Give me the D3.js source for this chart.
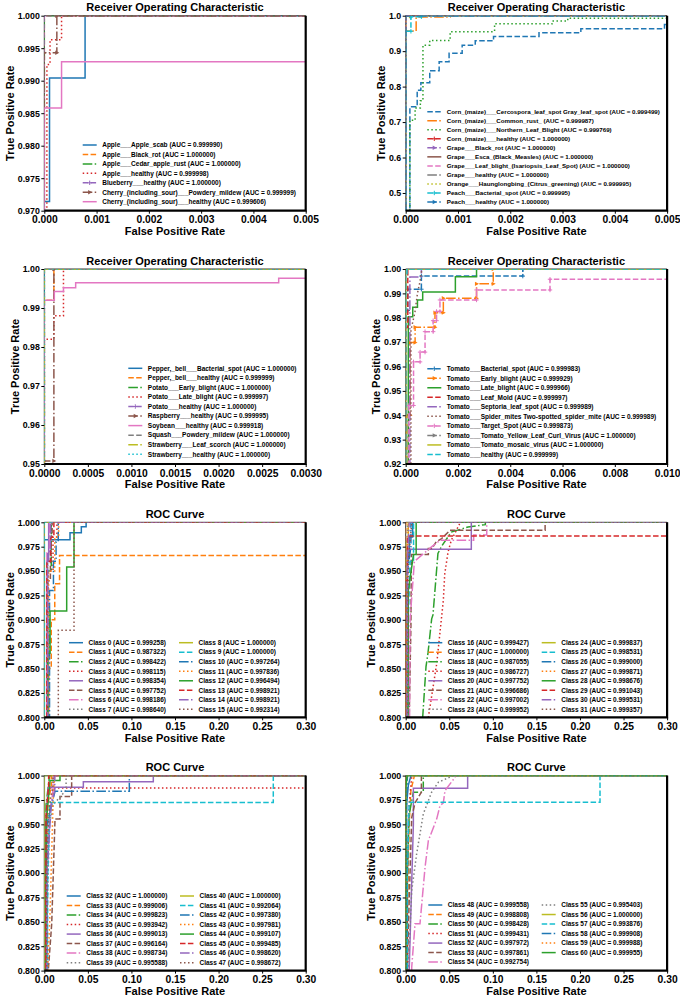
<!DOCTYPE html>
<html>
<head>
<meta charset="utf-8">
<script src="https://cdn.jsdelivr.net/npm/d3@7"></script>
<style>
  body { margin: 0; background: #fff; }
  svg text { font-family: Arial, "Liberation Sans", Helvetica, sans-serif; font-weight: bold; fill: #000; }
</style>
</head>
<body>
<div id="chart"></div>
<script>
///// DATOS //////
const colors = ['#1f77b4', '#ff7f0e', '#2ca02c', '#d62728', '#9467bd', '#8c564b', '#e377c2', '#7f7f7f', '#bcbd22', '#17becf'];

// Panel 1: Apple / Blueberry / Cherry
const p1Names = ['Apple___Apple_scab', 'Apple___Black_rot', 'Apple___Cedar_apple_rust', 'Apple___healthy',
  'Blueberry___healthy', 'Cherry_(including_sour)___Powdery_mildew', 'Cherry_(including_sour)___healthy'];
const p1Auc = [0.999990, 1.000000, 1.000000, 0.999998, 1.000000, 0.999999, 0.999606];
const p1Curves = [
  [[0,0],[0,0.9714],[0.0001,0.9714],[0.0001,0.9904],[0.00078,0.9904],[0.00078,1],[1,1]],
  [[0,0],[0,1],[1,1]],
  [[0,0],[0,1],[1,1]],
  [[0,0],[0.00005,0.9925],[0.00011,0.9925],[0.00011,0.9963],[0.00033,0.9963],[0.00033,1],[1,1]],
  [[0,0],[0,1],[1,1]],
  [[0,0],[0,0.9943],[0.00024,0.9943],[0.00024,1],[1,1]],
  [[0,0],[0,0.9858],[0.00033,0.9858],[0.00033,0.9929],[0.055,0.9929],[0.055,1],[1,1]]
];
const p1XTicks = [0, 0.001, 0.002, 0.003, 0.004, 0.005];
const p1YTicks = [0.970, 0.975, 0.980, 0.985, 0.990, 0.995, 1.000];

// Panel 2: Corn / Grape / Orange / Peach
const p2Names = ['Corn_(maize)___Cercospora_leaf_spot Gray_leaf_spot', 'Corn_(maize)___Common_rust_',
  'Corn_(maize)___Northern_Leaf_Blight', 'Corn_(maize)___healthy', 'Grape___Black_rot',
  'Grape___Esca_(Black_Measles)', 'Grape___Leaf_blight_(Isariopsis_Leaf_Spot)', 'Grape___healthy',
  'Orange___Haunglongbing_(Citrus_greening)', 'Peach___Bacterial_spot', 'Peach___healthy'];
const p2Auc = [0.999499, 0.999987, 0.999769, 1.000000, 1.000000, 1.000000, 1.000000, 1.000000, 0.999995, 0.999995, 1.000000];
const p2Curves = [
  [[0,0],[0.00008,0],[0.00008,0.743],[0.00022,0.743],[0.00022,0.790],[0.00029,0.790],[0.00029,0.811],
   [0.00046,0.811],[0.00046,0.845],[0.00064,0.845],[0.00064,0.870],[0.00083,0.870],[0.00083,0.894],
   [0.00108,0.894],[0.00108,0.917],[0.00133,0.917],[0.00133,0.929],[0.00168,0.929],[0.00168,0.941],
   [0.00255,0.941],[0.00255,0.952],[0.00335,0.952],[0.00335,0.963],[0.00495,0.963],[0.00495,0.975],
   [0.006,0.975],[0.006,1],[1,1]],
  [[0,0],[0,0.957],[0.0002,0.957],[0.0002,0.996],[0.00085,0.996],[0.00085,1],[1,1]],
  [[0,0],[0.00008,0],[0.00008,0.705],[0.00018,0.705],[0.00018,0.740],[0.00028,0.740],[0.00028,0.760],
   [0.00033,0.760],[0.00033,0.917],[0.00046,0.917],[0.00046,0.930],[0.00085,0.930],[0.00085,0.955],
   [0.0017,0.955],[0.0017,0.977],[0.0028,0.977],[0.0028,0.985],[0.0031,0.985],[0.0031,0.993],
   [0.006,0.993],[0.006,1],[1,1]],
  [[0,0],[0,1],[1,1]],
  [[0,0],[0,1],[1,1]],
  [[0,0],[0,1],[1,1]],
  [[0,0],[0,1],[1,1]],
  [[0,0],[0,1],[1,1]],
  [[0,0],[0,0.995],[0.0001,0.995],[0.0001,1],[1,1]],
  [[0,0],[0,0.956],[0.0001,0.956],[0.0001,0.997],[0.0003,0.997],[0.0003,1],[1,1]],
  [[0,0],[0,1],[1,1]]
];
const p2XTicks = [0, 0.001, 0.002, 0.003, 0.004, 0.005];
const p2YTicks = [0.5, 0.6, 0.7, 0.8, 0.9, 1.0];

// Panel 3: Pepper / Potato / Raspberry / Soybean / Squash / Strawberry
const p3Names = ['Pepper,_bell___Bacterial_spot', 'Pepper,_bell___healthy', 'Potato___Early_blight',
  'Potato___Late_blight', 'Potato___healthy', 'Raspberry___healthy', 'Soybean___healthy',
  'Squash___Powdery_mildew', 'Strawberry___Leaf_scorch', 'Strawberry___healthy'];
const p3Auc = [1.000000, 0.999999, 1.000000, 0.999997, 1.000000, 0.999995, 0.999918, 1.000000, 1.000000, 1.000000];
const p3Curves = [
  [[0,0],[0,1],[1,1]],
  [[0,0],[0,0.992],[0.00011,0.992],[0.00011,1],[1,1]],
  [[0,0],[0,1],[1,1]],
  [[0,0],[0,0.982],[0.00011,0.982],[0.00011,0.988],[0.00022,0.988],[0.00022,1],[1,1]],
  [[0,0],[0,1],[1,1]],
  [[0,0],[0,0.9508],[0.00011,0.9508],[0.00011,1],[1,1]],
  [[0,0],[0,0.992],[0.000115,0.992],[0.000115,0.9942],[0.00022,0.9942],[0.00022,0.9952],[0.00036,0.9952],
   [0.00036,0.9965],[0.00269,0.9965],[0.00269,0.9976],[0.01,0.9976],[0.01,1],[1,1]],
  [[0,0],[0,1],[1,1]],
  [[0,0],[0,1],[1,1]],
  [[0,0],[0,1],[1,1]]
];
const p3XTicks = [0, 0.0005, 0.0010, 0.0015, 0.0020, 0.0025, 0.0030];
const p3YTicks = [0.95, 0.96, 0.97, 0.98, 0.99, 1.00];

// Panel 4: Tomato
const p4Names = ['Tomato___Bacterial_spot', 'Tomato___Early_blight', 'Tomato___Late_blight', 'Tomato___Leaf_Mold',
  'Tomato___Septoria_leaf_spot', 'Tomato___Spider_mites Two-spotted_spider_mite', 'Tomato___Target_Spot',
  'Tomato___Tomato_Yellow_Leaf_Curl_Virus', 'Tomato___Tomato_mosaic_virus', 'Tomato___healthy'];
const p4Auc = [0.999983, 0.999929, 0.999966, 0.999997, 0.999989, 0.999989, 0.999873, 1.000000, 1.000000, 0.999999];
const p4Curves = [
  [[0,0],[0,0.983],[0.00008,0.983],[0.00008,0.9917],[0.0006,0.9917],[0.0006,0.9971],[0.00448,0.9971],[0.00448,1],[1,1]],
  [[0,0],[0.00004,0],[0.00004,0.940],[0.00017,0.940],[0.00017,0.9698],[0.00036,0.9698],[0.00036,0.9761],
   [0.00112,0.9761],[0.00112,0.9821],[0.00144,0.9821],[0.00144,0.988],[0.00271,0.988],[0.00271,0.9939],
   [0.00335,0.9939],[0.00335,1],[1,1]],
  [[0,0],[0.0001,0],[0.0001,0.9804],[0.00027,0.9804],[0.00027,0.9843],[0.00045,0.9843],[0.00045,0.9873],
   [0.00065,0.9873],[0.00065,0.9906],[0.0019,0.9906],[0.0019,0.9968],[0.00271,0.9968],[0.00271,1],[1,1]],
  [[0,0],[0,0.976],[0.00008,0.976],[0.00008,1],[1,1]],
  [[0,0],[0.00016,0],[0.00016,0.9967],[0.0006,0.9967],[0.0006,1],[1,1]],
  [[0,0],[0.0002,0],[0.0002,0.975],[0.00035,0.982],[0.00045,0.990],[0.00055,0.995],[0.00062,1],[1,1]],
  [[0,0],[0.00012,0],[0.00012,0.944],[0.0003,0.944],[0.0003,0.9619],[0.00055,0.9619],[0.00055,0.9659],
   [0.00074,0.9659],[0.00074,0.9743],[0.00105,0.9743],[0.00105,0.9788],[0.00118,0.9788],[0.00118,0.9826],
   [0.00131,0.9826],[0.00131,0.9873],[0.00271,0.9873],[0.00271,0.9914],[0.00552,0.9914],[0.00552,0.9958],
   [0.02,0.9958],[0.02,1],[1,1]],
  [[0,0],[0,1],[1,1]],
  [[0,0],[0,1],[1,1]],
  [[0,0],[0,0.9975],[0.00005,0.9975],[0.00005,1],[1,1]]
];
const p4XTicks = [0, 0.002, 0.004, 0.006, 0.008, 0.010];
const p4YTicks = [0.92, 0.93, 0.94, 0.95, 0.96, 0.97, 0.98, 0.99, 1.00];

// Panels 5-8: Class 0-60
const classXTicks = [0, 0.05, 0.10, 0.15, 0.20, 0.25, 0.30];
const classYTicks = [0.800, 0.825, 0.850, 0.875, 0.900, 0.925, 0.950, 0.975, 1.000];

const p5Classes = [0, 1, 2, 3, 4, 5, 6, 7, 8, 9, 10, 11, 12, 13, 14, 15];
const p5Auc = [0.999258, 0.987322, 0.998422, 0.998115, 0.998354, 0.997752, 0.998186, 0.998640,
  1.000000, 1.000000, 0.997264, 0.997836, 0.996494, 0.998921, 0.998921, 0.992314];
const p5Curves = [
  [[0,0],[0,0.9822],[0.0295,0.9822],[0.0295,0.9893],[0.0425,0.9893],[0.0425,0.9955],[0.048,0.9955],[0.048,1],[1,1]],
  [[0,0],[0.005,0],[0.005,0.85],[0.008,0.85],[0.008,0.90],[0.012,0.90],[0.012,0.937],[0.0175,0.937],[0.0175,0.966],[0.36,0.966],[0.36,1],[1,1]],
  [[0,0],[0.003,0],[0.003,0.95],[0.008,0.95],[0.008,1],[1,1]],
  [[0,0],[0.004,0],[0.004,0.95],[0.01,0.95],[0.01,0.985],[0.0145,0.985],[0.0145,1],[1,1]],
  [[0,0],[0.003,0],[0.003,0.96],[0.005,0.96],[0.005,1],[1,1]],
  [[0,0],[0.004,0],[0.004,0.94],[0.007,0.94],[0.007,0.985],[0.009,0.985],[0.009,1],[1,1]],
  [[0,0],[0.003,0],[0.003,0.97],[0.006,0.97],[0.006,1],[1,1]],
  [[0,0],[0.004,0],[0.004,0.96],[0.008,0.96],[0.008,1],[1,1]],
  [[0,0],[0,1],[1,1]],
  [[0,0],[0,1],[1,1]],
  [[0,0],[0.006,0],[0.006,0.93],[0.0105,0.93],[0.0105,0.96],[0.0135,0.96],[0.0135,0.98],[0.016,0.98],[0.016,1],[1,1]],
  [[0,0],[0.005,0],[0.005,0.95],[0.012,0.95],[0.012,0.985],[0.0165,0.985],[0.0165,1],[1,1]],
  [[0,0],[0.004,0],[0.004,0.8656],[0.0066,0.8656],[0.0066,0.909],[0.0257,0.909],[0.0257,0.9542],[0.0341,0.9542],[0.0341,1],[1,1]],
  [[0,0],[0.003,0],[0.003,0.96],[0.0075,0.96],[0.0075,0.985],[0.011,0.985],[0.011,1],[1,1]],
  [[0,0],[0.004,0],[0.004,0.97],[0.007,0.97],[0.007,1],[1,1]],
  [[0,0],[0.0161,0],[0.0161,0.8892],[0.0341,0.8892],[0.0341,1],[1,1]]
];

const p6Classes = [16, 17, 18, 19, 20, 21, 22, 23, 24, 25, 26, 27, 28, 29, 30, 31];
const p6Auc = [0.999427, 1.000000, 0.987055, 0.986727, 0.997752, 0.996686, 0.997002, 0.999952,
  0.999837, 0.998531, 0.999000, 0.999871, 0.998676, 0.991043, 0.999531, 0.999357];
const p6Curves = [
  [[0,0],[0.001,0.95],[0.004,0.97],[0.004,0.985],[0.008,0.985],[0.008,1],[1,1]],
  [[0,0],[0,1],[1,1]],
  [[0,0],[0.012,0.6],[0.0195,0.8],[0.0233,0.852],[0.0256,0.866],[0.0298,0.901],[0.0313,0.905],[0.0351,0.947],
   [0.037,0.968],[0.0409,0.975],[0.0523,0.99],[0.0715,0.9952],[0.0914,0.9976],[0.0914,1],[1,1]],
  [[0,0],[0.018,0.6],[0.026,0.8],[0.0356,0.855],[0.0432,0.92],[0.0448,0.947],[0.0486,0.9695],[0.0523,0.9815],
   [0.062,0.9986],[0.062,1],[1,1]],
  [[0,0],[0.0015,0],[0.0015,0.9723],[0.0753,0.9723],[0.0753,1],[1,1]],
  [[0,0],[0.004,0.8],[0.006,0.894],[0.0065,0.9669],[0.026,0.9669],[0.026,0.973],[0.03,0.973],[0.035,0.98],
   [0.0413,0.9833],[0.0508,0.9918],[0.16,0.9918],[0.16,1],[1,1]],
  [[0,0],[0.005,0.9],[0.01,0.96],[0.03,0.975],[0.0394,0.9815],[0.078,0.9815],[0.078,0.987],[0.093,0.987],[0.093,1],[1,1]],
  [[0,0],[0,0.99],[0.002,0.99],[0.002,1],[1,1]],
  [[0,0],[0,0.98],[0.003,0.98],[0.003,1],[1,1]],
  [[0,0],[0.003,0.9],[0.005,0.96],[0.009,0.96],[0.009,1],[1,1]],
  [[0,0],[0.002,0.95],[0.006,0.975],[0.006,1],[1,1]],
  [[0,0],[0.002,0.97],[0.003,1],[1,1]],
  [[0,0],[0.003,0.93],[0.009,0.967],[0.012,0.967],[0.012,1],[1,1]],
  [[0,0],[0,0.94],[0.002,0.94],[0.002,0.986],[0.64,0.986],[0.64,1],[1,1]],
  [[0,0],[0.002,0.96],[0.004,1],[1,1]],
  [[0,0],[0.003,0.96],[0.006,0.99],[0.007,1],[1,1]]
];

const p7Classes = [32, 33, 34, 35, 36, 37, 38, 39, 40, 41, 42, 43, 44, 45, 46, 47];
const p7Auc = [1.000000, 0.999006, 0.999823, 0.993942, 0.999013, 0.996164, 0.998734, 0.995588,
  1.000000, 0.992064, 0.997380, 0.997981, 0.999107, 0.999485, 0.998620, 0.998672];
const p7Curves = [
  [[0,0],[0,1],[1,1]],
  [[0,0],[0.002,0.9],[0.004,0.97],[0.008,0.99],[0.008,1],[1,1]],
  [[0,0],[0.002,0.97],[0.006,1],[1,1]],
  [[0,0],[0.002,0.95],[0.005,0.9873],[0.45,0.9873],[0.45,1],[1,1]],
  [[0,0],[0.002,0.95],[0.0046,0.988],[0.0448,0.988],[0.0448,0.9938],[0.1251,0.9938],[0.1251,1],[1,1]],
  [[0,0],[0.003,0.7],[0.0046,0.8],[0.0085,0.848],[0.0123,0.9556],[0.018,0.9556],[0.018,0.9785],[0.0314,0.9785],[0.0314,1],[1,1]],
  [[0,0],[0.003,0.9],[0.006,0.96],[0.01,0.985],[0.01,1],[1,1]],
  [[0,0],[0.003,0.85],[0.006,0.95],[0.01,0.97],[0.025,0.985],[0.025,1],[1,1]],
  [[0,0],[0,1],[1,1]],
  [[0,0],[0.004,0.9],[0.0065,0.9723],[0.2628,0.9723],[0.2628,1],[1,1]],
  [[0,0],[0.003,0.95],[0.0123,0.984],[0.0976,0.984],[0.0976,1],[1,1]],
  [[0,0],[0.004,0.8],[0.0066,0.86],[0.0103,0.98],[0.012,1],[1,1]],
  [[0,0],[0.002,0.95],[0.0066,0.995],[0.018,0.995],[0.018,1],[1,1]],
  [[0,0],[0.002,0.96],[0.005,0.99],[0.005,1],[1,1]],
  [[0,0],[0.003,0.9],[0.008,0.97],[0.012,0.985],[0.012,1],[1,1]],
  [[0,0],[0.003,0.92],[0.006,0.97],[0.01,0.99],[0.01,1],[1,1]]
];

const p8Classes = [48, 49, 50, 51, 52, 53, 54, 55, 56, 57, 58, 59, 60];
const p8Auc = [0.999558, 0.998808, 0.998428, 0.999431, 0.997972, 0.997861, 0.992754, 0.995403,
  1.000000, 0.993876, 0.999908, 0.999988, 0.999955];
const p8Curves = [
  [[0,0],[0.001,0.97],[0.003,0.99],[0.006,1],[1,1]],
  [[0,0],[0.002,0.85],[0.004,0.95],[0.006,0.985],[0.01,1],[1,1]],
  [[0,0],[0.002,0.9],[0.004,0.96],[0.0088,0.983],[0.0202,0.983],[0.0202,1],[1,1]],
  [[0,0],[0.002,0.9],[0.004,0.97],[0.007,1],[1,1]],
  [[0,0],[0.004,0.8],[0.0088,0.95],[0.0088,0.987],[0.0711,0.987],[0.0711,1],[1,1]],
  [[0,0],[0.002,0.8],[0.003,0.841],[0.0069,0.957],[0.0107,0.972],[0.018,0.983],[0.018,1],[1,1]],
  [[0,0],[0.004,0.6],[0.0069,0.8034],[0.0107,0.848],[0.0164,0.848],[0.0222,0.906],[0.026,0.9333],[0.0356,0.9556],
   [0.0394,0.9692],[0.0432,0.972],[0.0451,0.9846],[0.0566,0.9983],[0.0566,1],[1,1]],
  [[0,0],[0.002,0.6],[0.003,0.8034],[0.0069,0.882],[0.0126,0.92],[0.0202,0.9607],[0.0298,0.983],[0.0374,0.9932],[0.0546,1],[1,1]],
  [[0,0],[0,1],[1,1]],
  [[0,0],[0.002,0.9],[0.004,0.9726],[0.223,0.9726],[0.223,1],[1,1]],
  [[0,0],[0.001,0.97],[0.002,1],[1,1]],
  [[0,0],[0,0.99],[0.001,1],[1,1]],
  [[0,0],[0,0.985],[0.0015,1],[1,1]]
];

///// ESTILOS Y DISPOSICIÓN //////
const lineStyles = {
  solid: { dash: null, marker: null },
  dashed: { dash: '5.5,2.4', marker: null },
  dashdot: { dash: '9.6,2.4,1.5,2.4', marker: null },
  dotted: { dash: '1.5,2.5', marker: null },
  dashedPlus: { dash: '5.5,2.4', marker: 'plus' },
  dashdotTri: { dash: '9.6,2.4,1.5,2.4', marker: 'tri' }
};
const cycle6 = ['solid', 'dashed', 'dashdot', 'dotted', 'dashedPlus', 'dashdotTri'];
const cycle4 = ['solid', 'dashed', 'dashdot', 'dotted'];

const W = 680, H = 996;
const colLeft = [44.3, 405.7], rowTop = [15.7, 269, 522.3, 775.6];
const plotW = 261.4, plotH = 195;
const rocTitle = 'Receiver Operating Characteristic';

const classLabel = c => 'Class ' + c;

const panels = [
  { names: p1Names, auc: p1Auc, curves: p1Curves, xTicks: p1XTicks, yTicks: p1YTicks, xDomain: [0, 0.005], yDomain: [0.97, 1],
    xFmt: '.3f', yFmt: '.3f', title: rocTitle, row: 0, col: 0, cycle: cycle6, styleStart: 0,
    legend: { x: [38.4], y: 129.3, dy: 9.45, fs: 6.5 } },
  { names: p2Names, auc: p2Auc, curves: p2Curves, xTicks: p2XTicks, yTicks: p2YTicks, xDomain: [0, 0.005], yDomain: [0.45, 1],
    xFmt: '.3f', yFmt: '.1f', title: rocTitle, row: 0, col: 1, cycle: cycle6, styleStart: 7,
    legend: { x: [21.6], y: 96, dy: 9.03, fs: 6.2 } },
  { names: p3Names, auc: p3Auc, curves: p3Curves, xTicks: p3XTicks, yTicks: p3YTicks, xDomain: [0, 0.003], yDomain: [0.95, 1],
    xFmt: '.4f', yFmt: '.2f', title: rocTitle, row: 1, col: 0, cycle: cycle6, styleStart: 18,
    legend: { x: [84], y: 99.3, dy: 9.55, fs: 6.5 } },
  { names: p4Names, auc: p4Auc, curves: p4Curves, xTicks: p4XTicks, yTicks: p4YTicks, xDomain: [0, 0.010], yDomain: [0.92, 1],
    xFmt: '.3f', yFmt: '.2f', title: rocTitle, row: 1, col: 1, cycle: cycle6, styleStart: 28,
    legend: { x: [21.6], y: 99.7, dy: 9.53, fs: 6.5 } },
  { names: p5Classes.map(classLabel), auc: p5Auc, curves: p5Curves, xTicks: classXTicks, yTicks: classYTicks, xDomain: [0, 0.3], yDomain: [0.8, 1],
    xFmt: '.2f', yFmt: '.3f', title: 'ROC Curve', row: 2, col: 0, cycle: cycle4, styleStart: 0,
    legend: { x: [24.7, 134.7], y: 120.4, dy: 9.52, fs: 6.5 } },
  { names: p6Classes.map(classLabel), auc: p6Auc, curves: p6Curves, xTicks: classXTicks, yTicks: classYTicks, xDomain: [0, 0.3], yDomain: [0.8, 1],
    xFmt: '.2f', yFmt: '.3f', title: 'ROC Curve', row: 2, col: 1, cycle: cycle4, styleStart: 0,
    legend: { x: [22.6, 136], y: 120.4, dy: 9.52, fs: 6.5 } },
  { names: p7Classes.map(classLabel), auc: p7Auc, curves: p7Curves, xTicks: classXTicks, yTicks: classYTicks, xDomain: [0, 0.3], yDomain: [0.8, 1],
    xFmt: '.2f', yFmt: '.3f', title: 'ROC Curve', row: 3, col: 0, cycle: cycle4, styleStart: 0,
    legend: { x: [22.4, 135.7], y: 120.4, dy: 9.52, fs: 6.5 } },
  { names: p8Classes.map(classLabel), auc: p8Auc, curves: p8Curves, xTicks: classXTicks, yTicks: classYTicks, xDomain: [0, 0.3], yDomain: [0.8, 1],
    xFmt: '.2f', yFmt: '.3f', title: 'ROC Curve', row: 3, col: 1, cycle: cycle4, styleStart: 0,
    legend: { x: [22.6, 136], y: 129.4, dy: 9.52, fs: 6.5 } }
];

///// DIBUJO //////
const svg = d3.select('#chart').append('svg')
  .attr('width', W).attr('height', H)
  .attr('viewBox', `0 0 ${W} ${H}`);
svg.append('rect').attr('width', W).attr('height', H).attr('fill', '#fff');
const defs = svg.append('defs');

function drawMarker(sel, type, cx, cy, color) {
  if (type === 'plus') {
    sel.append('path')
      .attr('d', `M${cx - 2.2},${cy}H${cx + 2.2}M${cx},${cy - 2.2}V${cy + 2.2}`)
      .attr('stroke', color).attr('stroke-width', 1).attr('fill', 'none');
  } else if (type === 'tri') {
    sel.append('path')
      .attr('d', `M${cx + 2.4},${cy}L${cx - 1.6},${cy - 2.2}L${cx - 1.6},${cy + 2.2}Z`)
      .attr('fill', color);
  }
}

panels.forEach(function(p, idx) {
  const left = colLeft[p.col], top = rowTop[p.row];
  const g = svg.append('g').attr('transform', `translate(${left},${top})`);

  const x = d3.scaleLinear().domain(p.xDomain).range([0, plotW]);
  const y = d3.scaleLinear().domain(p.yDomain).range([plotH, 0]);

  const clipId = 'clip' + idx;
  defs.append('clipPath').attr('id', clipId)
    .append('rect').attr('width', plotW).attr('height', plotH);

  // Ejes finos (arriba e izquierda) por debajo de las curvas
  g.append('path').attr('d', `M0,${plotH}V0H${plotW}`)
    .attr('fill', 'none').attr('stroke', '#000').attr('stroke-width', 0.8);

  // Curvas
  const line = d3.line().x(d => x(d[0])).y(d => y(d[1]));
  const curveG = g.append('g').attr('clip-path', `url(#${clipId})`);
  const styleOf = i => lineStyles[p.cycle[(p.styleStart + i) % p.cycle.length]];

  p.curves.forEach(function(c, i) {
    const st = styleOf(i), col = colors[i % 10];
    curveG.append('path')
      .attr('d', line(c))
      .attr('fill', 'none')
      .attr('stroke', col)
      .attr('stroke-width', 1.5)
      .attr('stroke-dasharray', st.dash);
    if (st.marker) {
      c.forEach(d => drawMarker(curveG, st.marker, x(d[0]), y(d[1]), col));
    }
  });

  // Eje X
  const xAxis = g.append('g')
    .attr('transform', `translate(0,${plotH})`)
    .call(d3.axisBottom(x).tickValues(p.xTicks).tickFormat(d3.format(p.xFmt)).tickSize(3).tickSizeOuter(0).tickPadding(2.3));
  xAxis.select('.domain').remove();
  xAxis.selectAll('text').attr('font-size', 10.3).attr('font-family', null);
  xAxis.attr('font-family', null);

  // Eje Y
  const yAxis = g.append('g')
    .call(d3.axisLeft(y).tickValues(p.yTicks).tickFormat(d3.format(p.yFmt)).tickSize(3).tickSizeOuter(0).tickPadding(1.5));
  yAxis.select('.domain').remove();
  yAxis.selectAll('text').attr('font-size', 8.8).attr('font-family', null);
  yAxis.attr('font-family', null);

  // Ejes gruesos (abajo y derecha)
  g.append('path').attr('d', `M0,${plotH}H${plotW}V0`)
    .attr('fill', 'none').attr('stroke', '#000').attr('stroke-width', 2.2);

  // Títulos
  g.append('text')
    .attr('x', plotW / 2).attr('y', -4.4)
    .attr('text-anchor', 'middle').attr('font-size', 11)
    .text(p.title);

  g.append('text')
    .attr('x', plotW / 2).attr('y', plotH + 24.3)
    .attr('text-anchor', 'middle').attr('font-size', 11)
    .text('False Positive Rate');

  const yb = yAxis.node().getBBox();
  const ylx = yb.x - 4;
  g.append('text')
    .attr('transform', `translate(${ylx},${plotH / 2}) rotate(-90)`)
    .attr('text-anchor', 'middle').attr('font-size', 11)
    .text('True Positive Rate');

  // Leyenda
  const lg = g.append('g');
  const nCols = p.legend.x.length;
  const perCol = Math.ceil(p.names.length / nCols);
  p.names.forEach(function(name, i) {
    const st = styleOf(i), col = colors[i % 10];
    const c = Math.floor(i / perCol), r = i % perCol;
    const hx = p.legend.x[c], hy = p.legend.y + r * p.legend.dy;
    lg.append('line')
      .attr('x1', hx).attr('x2', hx + 14).attr('y1', hy).attr('y2', hy)
      .attr('stroke', col).attr('stroke-width', 1.5)
      .attr('stroke-dasharray', st.dash);
    if (st.marker) drawMarker(lg, st.marker, hx + 7, hy, col);
    lg.append('text')
      .attr('x', hx + 19.5).attr('y', hy).attr('dy', '0.35em')
      .attr('font-size', p.legend.fs)
      .text(name + ' (AUC = ' + p.auc[i].toFixed(6) + ')');
  });
});
</script>
</body>
</html>
